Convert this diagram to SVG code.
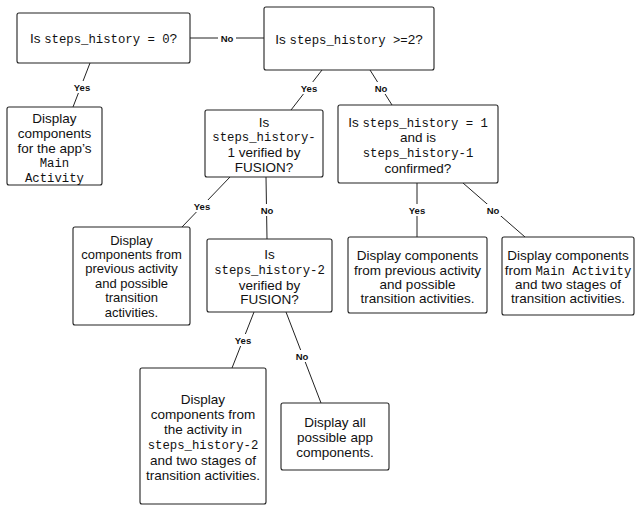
<svg xmlns="http://www.w3.org/2000/svg" width="636" height="506" viewBox="0 0 636 506">
<style>
.box{fill:#fff;stroke:#222;stroke-width:1.1}
.t{font-family:"Liberation Sans",Arial,sans-serif;font-size:13.5px;fill:#111;text-anchor:middle}
.s{font-size:13px}
.m{font-family:"Liberation Mono","Courier New",monospace;font-size:12.3px}
.e{stroke:#222;stroke-width:1;fill:none}
.lb{fill:#fff}
.l{font-family:"Liberation Sans",Arial,sans-serif;font-size:9.5px;font-weight:bold;fill:#111;text-anchor:middle}
</style>
<rect width="636" height="506" fill="#fff"/>
<g id="connectors">
<line class="e" x1="190" y1="38" x2="264" y2="38"/>
<line class="e" x1="90" y1="63" x2="73" y2="107"/>
<line class="e" x1="322" y1="70" x2="291" y2="110"/>
<line class="e" x1="370" y1="70" x2="392" y2="105"/>
<line class="e" x1="230" y1="177" x2="182" y2="227"/>
<line class="e" x1="266" y1="177" x2="267" y2="239"/>
<line class="e" x1="417" y1="183" x2="417" y2="237"/>
<line class="e" x1="463" y1="183" x2="525" y2="237"/>
<line class="e" x1="254" y1="312" x2="232" y2="368"/>
<line class="e" x1="286" y1="312" x2="321" y2="403"/>
<rect class="lb" x="218" y="32" width="18" height="12"/><text class="l" x="227" y="41.5">No</text>
<rect class="lb" x="72" y="81" width="20" height="12"/><text class="l" x="82" y="90.5">Yes</text>
<rect class="lb" x="299" y="82" width="20" height="12"/><text class="l" x="309" y="91.5">Yes</text>
<rect class="lb" x="372" y="82" width="18" height="12"/><text class="l" x="381" y="91.5">No</text>
<rect class="lb" x="192" y="200" width="20" height="12"/><text class="l" x="202" y="209.5">Yes</text>
<rect class="lb" x="258" y="204" width="18" height="12"/><text class="l" x="267" y="213.5">No</text>
<rect class="lb" x="407" y="204" width="20" height="12"/><text class="l" x="417" y="213.5">Yes</text>
<rect class="lb" x="484" y="204" width="18" height="12"/><text class="l" x="493" y="213.5">No</text>
<rect class="lb" x="233" y="334" width="20" height="12"/><text class="l" x="243" y="343.5">Yes</text>
<rect class="lb" x="293" y="350" width="18" height="12"/><text class="l" x="302" y="359.5">No</text>
</g>
<g id="q0">
<rect class="box" x="17" y="13" width="173" height="50" rx="2"/>
<text class="t" x="103.5" y="43">Is <tspan class="m">steps_history = 0</tspan>?</text>
</g>
<g id="q2">
<rect class="box" x="264" y="7" width="170" height="63" rx="2"/>
<text class="t" x="349" y="44">Is <tspan class="m">steps_history &gt;=</tspan>2?</text>
</g>
<g id="mainActivity">
<rect class="box" x="7" y="107" width="95" height="78" rx="2"/>
<text class="t" x="54.5" y="123">Display</text>
<text class="t" x="54.5" y="138">components</text>
<text class="t" x="54.5" y="153">for the app’s</text>
<text class="t m" x="54.5" y="167">Main</text>
<text class="t m" x="54.5" y="182">Activity</text>
</g>
<g id="q1verified">
<rect class="box" x="205" y="110" width="118" height="67" rx="2"/>
<text class="t" x="264" y="127">Is</text>
<text class="t m" x="264" y="141">steps_history-</text>
<text class="t" x="264" y="157">1 verified by</text>
<text class="t" x="264" y="172">FUSION?</text>
</g>
<g id="q1confirmed">
<rect class="box" x="338" y="105" width="160" height="78" rx="2"/>
<text class="t" x="418" y="127">Is <tspan class="m">steps_history = 1</tspan></text>
<text class="t" x="418" y="142">and is</text>
<text class="t m" x="418" y="157">steps_history-1</text>
<text class="t" x="418" y="173">confirmed?</text>
</g>
<g id="prevActivityA">
<rect class="box" x="73" y="227" width="117" height="98" rx="2"/>
<text class="t s" x="131.5" y="245">Display</text>
<text class="t s" x="131.5" y="259">components from</text>
<text class="t s" x="131.5" y="273">previous activity</text>
<text class="t s" x="131.5" y="287.5">and possible</text>
<text class="t s" x="131.5" y="302">transition</text>
<text class="t s" x="131.5" y="316.5">activities.</text>
</g>
<g id="q2verified">
<rect class="box" x="207" y="239" width="125" height="73" rx="2"/>
<text class="t" x="269.5" y="259">Is</text>
<text class="t m" x="269.5" y="273.5">steps_history-2</text>
<text class="t" x="269.5" y="289.5">verified by</text>
<text class="t" x="269.5" y="304">FUSION?</text>
</g>
<g id="prevActivityB">
<rect class="box" x="348" y="237" width="139" height="76" rx="2"/>
<text class="t" x="417.5" y="260">Display components</text>
<text class="t" x="417.5" y="274.5">from previous activity</text>
<text class="t" x="417.5" y="289">and possible</text>
<text class="t" x="417.5" y="303">transition activities.</text>
</g>
<g id="mainTwoStages">
<rect class="box" x="502" y="237" width="132" height="78" rx="2"/>
<text class="t" x="568" y="260">Display components</text>
<text class="t" x="568" y="274.5">from <tspan class="m">Main Activity</tspan></text>
<text class="t" x="568" y="289">and two stages of</text>
<text class="t" x="568" y="303">transition activities.</text>
</g>
<g id="hist2TwoStages">
<rect class="box" x="140" y="368" width="126" height="136" rx="2"/>
<text class="t" x="203" y="404">Display</text>
<text class="t" x="203" y="419">components from</text>
<text class="t" x="203" y="434">the activity in</text>
<text class="t m" x="203" y="449">steps_history-2</text>
<text class="t" x="203" y="464.5">and two stages of</text>
<text class="t" x="203" y="479.5">transition activities.</text>
</g>
<g id="allComponents">
<rect class="box" x="281" y="403" width="108" height="67" rx="2"/>
<text class="t" x="335" y="427">Display all</text>
<text class="t" x="335" y="442">possible app</text>
<text class="t" x="335" y="457">components.</text>
</g>
</svg>
